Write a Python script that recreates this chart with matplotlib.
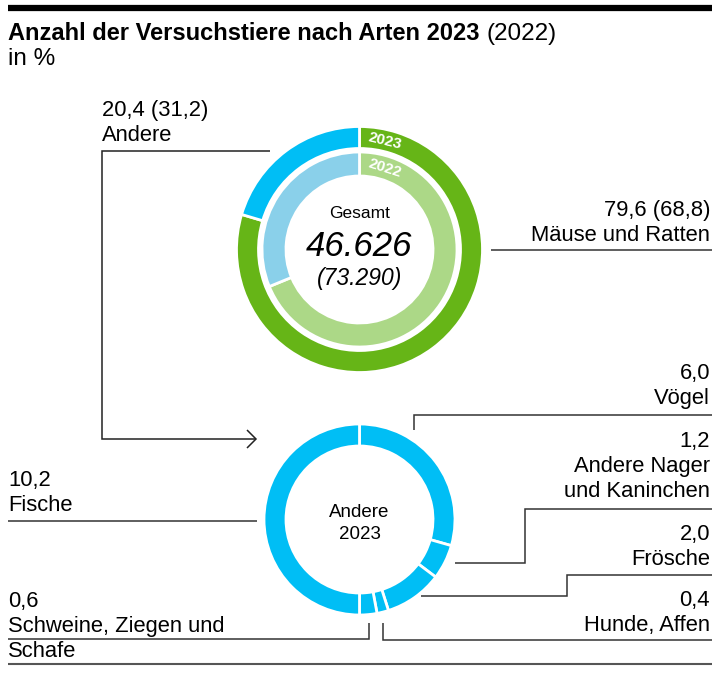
import numpy as np
import matplotlib.pyplot as plt

plt.rcParams['font.family'] = ['Liberation Sans', 'DejaVu Sans']

W, H = 720, 680

# --- data (percent shares) ---
top_names = ["Mäuse und Ratten", "Andere"]
share_2023 = [79.6, 20.4]
share_2022 = [68.8, 31.2]
total_2023 = 46626
total_2022 = 73290

other_names = ["Vögel", "Andere Nager\nund Kaninchen", "Frösche", "Hunde, Affen",
               "Schweine, Ziegen und\nSchafe", "Fische"]
other_share = [6.0, 1.2, 2.0, 0.4, 0.6, 10.2]

GREEN = "#66b517"
LIGHT_GREEN = "#acd887"
BLUE = "#00bef5"
LIGHT_BLUE = "#8ad0ea"
LINE = "#333333"
FS = 15.8


def de(v):
    return f"{v:.1f}".replace(".", ",")


def de_int(n):
    return f"{n:,}".replace(",", ".")


def Y(y):
    # pixel row (from top) -> data y
    return H - y


def leader(points, color=LINE, lw=1.1):
    xs = [p[0] for p in points]
    ys = [Y(p[1]) for p in points]
    ax.plot(xs, ys, color=color, lw=lw, solid_capstyle='butt', solid_joinstyle='miter')


def label(x, y0, lines, ha):
    for i, s in enumerate(lines):
        ax.text(x, Y(y0 + i * 25), s, ha=ha, va='baseline', fontsize=FS, color='black')


fig = plt.figure(figsize=(7.2, 6.8), dpi=100)
ax = fig.add_axes([0, 0, 1, 1])

# top donut: 2023 outside, 2022 inside
top_c = (359.5, Y(249.5))
ax.pie(share_2023, radius=123, center=top_c, startangle=90, counterclock=False,
       colors=[GREEN, BLUE], wedgeprops=dict(width=22, edgecolor='white', linewidth=2))
ax.pie(share_2022, radius=97.5, center=top_c, startangle=90, counterclock=False,
       colors=[LIGHT_GREEN, LIGHT_BLUE], wedgeprops=dict(width=24, edgecolor='white', linewidth=2))

for txt, r, ang in [("2023", 111, 76.5), ("2022", 85.5, 72.5)]:
    a = np.radians(ang)
    ax.text(top_c[0] + r * np.cos(a), top_c[1] + r * np.sin(a), txt,
            rotation=ang - 90, rotation_mode='anchor', ha='center', va='center',
            color='white', fontsize=11, fontweight='bold')

ax.text(top_c[0], Y(218), "Gesamt", ha='center', va='baseline', fontsize=12.5)
ax.text(top_c[0], Y(256), de_int(total_2023), ha='center', va='baseline',
        fontsize=25, style='italic')
ax.text(top_c[0], Y(285), "(" + de_int(total_2022) + ")", ha='center', va='baseline',
        fontsize=16.5, style='italic')

# bottom donut: breakdown of "Andere" 2023
bot_c = (359.5, Y(519.5))
ax.pie(other_share, radius=95.5, center=bot_c, startangle=90, counterclock=False,
       colors=[BLUE] * len(other_share),
       wedgeprops=dict(width=22, edgecolor='white', linewidth=2))
ax.text(bot_c[0], Y(517), "Andere", ha='center', va='baseline', fontsize=13.5)
ax.text(bot_c[0], Y(539), "2023", ha='center', va='baseline', fontsize=13.5)

ax.set_xlim(0, W)
ax.set_ylim(0, H)
ax.set_aspect('auto')
ax.axis('off')

# title block
ax.plot([8, 712], [Y(8), Y(8)], color='black', lw=4.5, solid_capstyle='butt')
t = ax.text(8, Y(40), "Anzahl der Versuchstiere nach Arten 2023", ha='left', va='baseline',
            fontsize=17, fontweight='bold')
fig.canvas.draw()
x_end = t.get_window_extent(fig.canvas.get_renderer()).x1
ax.text(x_end + 7, Y(40), "(2022)", ha='left', va='baseline', fontsize=17.5)
ax.text(8, Y(65), "in %", ha='left', va='baseline', fontsize=17.5)

# labels of the top donut
label(102, 116, [f"{de(share_2023[1])} ({de(share_2022[1])})", top_names[1]], 'left')
label(710, 216, [f"{de(share_2023[0])} ({de(share_2022[0])})", top_names[0]], 'right')

# labels of the bottom donut
right_side = {0: 379, 1: 447, 2: 540, 3: 606}
left_side = {4: 607, 5: 486}
for i, y0 in right_side.items():
    label(710, y0, [de(other_share[i])] + other_names[i].split("\n"), 'right')
for i, y0 in left_side.items():
    label(8, y0, [de(other_share[i])] + other_names[i].split("\n"), 'left')

# leader lines
leader([(270, 151), (102, 151), (102, 439), (256, 439)], color='#222222')
leader([(247, 430), (256, 439), (247, 448)], color='#222222')
leader([(491, 250), (712, 250)])
leader([(414, 430), (414, 415), (712, 415)])
leader([(455, 563), (525, 563), (525, 509), (712, 509)])
leader([(421, 596), (567, 596), (567, 575), (712, 575)])
leader([(383, 623), (383, 640), (712, 640)])
leader([(369, 623), (369, 639), (8, 639)])
leader([(8, 521), (257, 521)])
leader([(8, 664), (712, 664)], color='#555555', lw=1.5)

fig.savefig("out.png", dpi=100)
